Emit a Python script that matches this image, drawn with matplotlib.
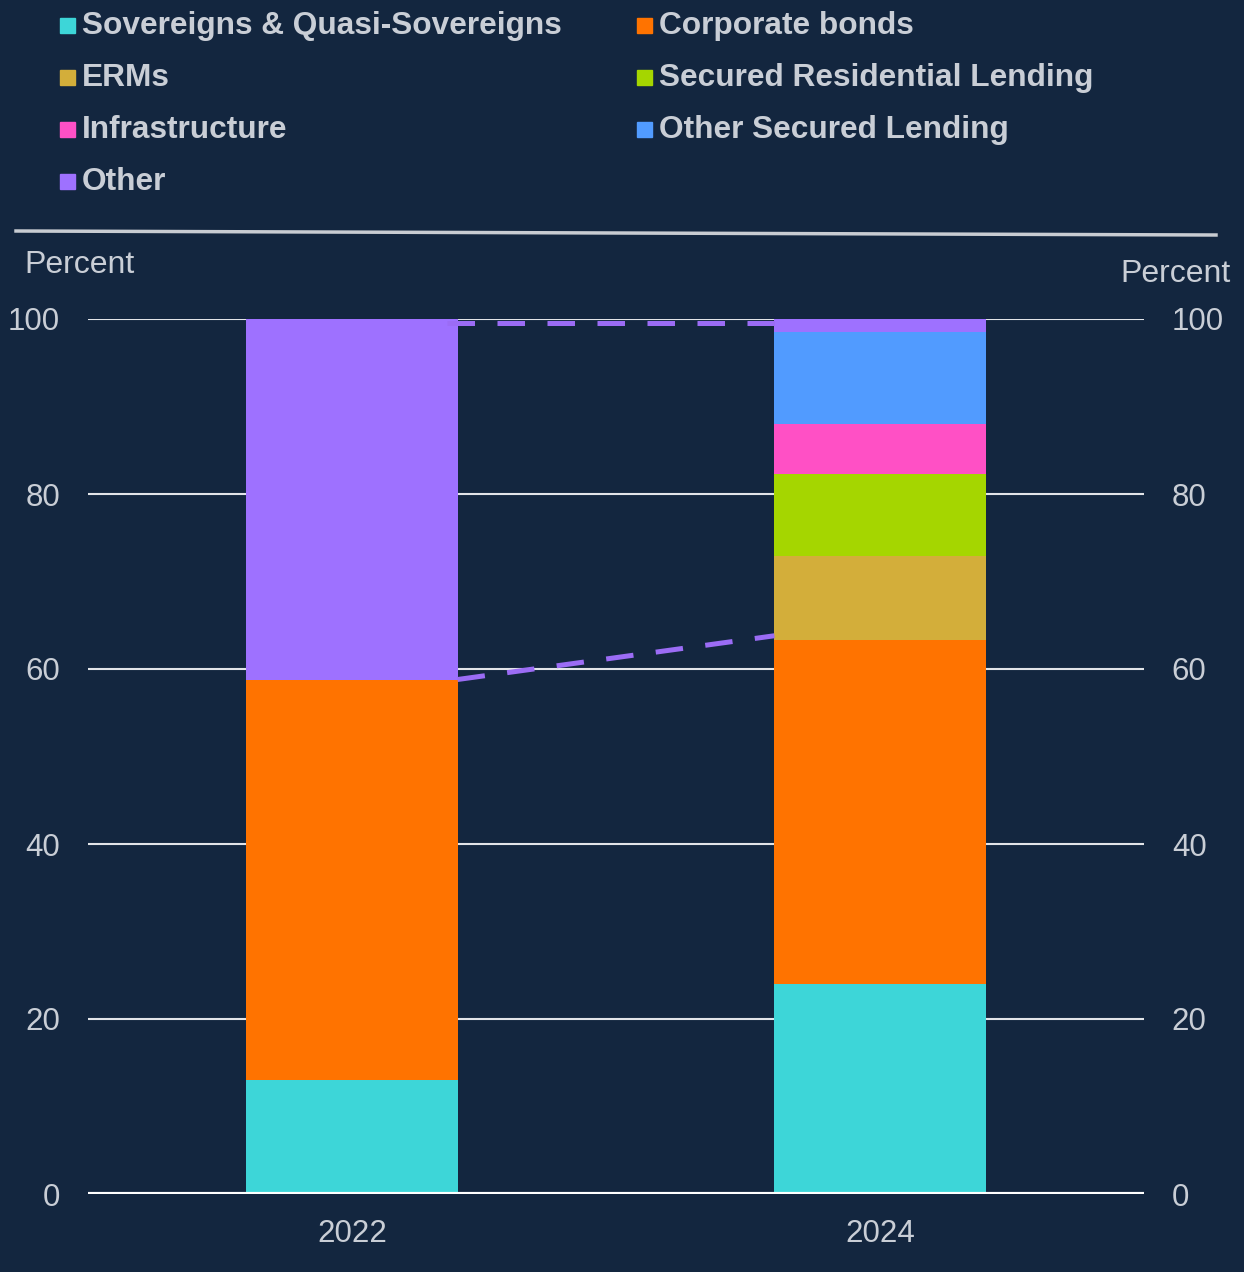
import matplotlib
matplotlib.use("Agg")
import matplotlib.pyplot as plt
from matplotlib.lines import Line2D
from matplotlib.patches import Rectangle

BG = "#13263f"
TXT = "#c9ced6"
plt.rcParams["font.family"] = ["Liberation Sans", "DejaVu Sans"]

# ---- data (percent of portfolio) ----
years = ["2022", "2024"]
series = ["Sovereigns & Quasi-Sovereigns", "Corporate bonds", "ERMs",
          "Secured Residential Lending", "Infrastructure",
          "Other Secured Lending", "Other"]
sovereigns = [13.0, 24.0]
corporate = [45.8, 39.3]
erms = [0.0, 9.6]
secured_res = [0.0, 9.4]
infrastructure = [0.0, 5.7]
other_secured = [0.0, 10.5]
other = [41.2, 1.5]
values = [sovereigns, corporate, erms, secured_res, infrastructure, other_secured, other]
colors = ["#3dd6d8", "#ff7300", "#d3ae3a", "#a5d600", "#ff50c5", "#519bff", "#9e71ff"]

# dashed connectors between the bars
conn_low_x = [0.2, 0.8]
conn_low_y = [58.8, 63.8]
conn_top_x = [0.18, 0.835]
conn_top_y = [99.5, 99.5]
yticks = [0, 20, 40, 60, 80, 100]

fig = plt.figure(figsize=(12.44, 12.72), dpi=100, facecolor=BG)
ax = fig.add_axes([88 / 1244, 78 / 1272, 1056 / 1244, 875 / 1272])
ax.set_facecolor(BG)

x = range(len(years))
for yv in yticks[1:]:
    ax.axhline(yv, color="#e2e4e8", lw=1.5, zorder=1)

bottom = [0.0, 0.0]
for vals, col in zip(values, colors):
    ax.bar(x, vals, width=0.4, bottom=bottom, color=col, zorder=2)
    bottom = [b + v for b, v in zip(bottom, vals)]

dash = dict(color="#9b6cf5", lw=3.6, ls=(0, (5.5, 4.5)), zorder=3, solid_capstyle="butt")
ax.plot(conn_low_x, conn_low_y, **dash)
ax.plot(conn_top_x, conn_top_y, **dash)

ax.axhline(0, color="white", lw=3, zorder=4)

ax.set_xlim(-0.5, 1.5)
ax.set_ylim(0, 100)
ax.set_xticks(list(x))
ax.set_xticklabels(years)
ax.set_yticks(yticks)
ax.tick_params(axis="both", length=0, labelsize=22.5, labelcolor=TXT)
ax.tick_params(axis="y", pad=20)
ax.tick_params(axis="x", pad=18)
for s in ax.spines.values():
    s.set_visible(False)

ax2 = ax.twinx()
ax2.set_ylim(0, 100)
ax2.set_yticks(yticks)
ax2.tick_params(axis="y", length=0, labelsize=22.5, labelcolor=TXT, pad=20)
for s in ax2.spines.values():
    s.set_visible(False)

fig.text(24 / 1244, 1 - 265 / 1272, "Percent", color=TXT, fontsize=23, va="center", ha="left")
fig.text(1231 / 1244, 1 - 274 / 1272, "Percent", color=TXT, fontsize=23, va="center", ha="right")

# ---- legend ----
col_x = [60, 637]
row_y0, row_dy = 25, 52
for i, (name, col) in enumerate(zip(series, colors)):
    r, c = divmod(i, 2)
    yc = row_y0 + r * row_dy
    fig.patches.append(Rectangle((col_x[c] / 1244, 1 - (yc + 8) / 1272), 15 / 1244, 15 / 1272,
                                 transform=fig.transFigure, color=col))
    fig.text((col_x[c] + 22) / 1244, 1 - (yc + 1) / 1272, name, color=TXT, fontsize=22.8,
             fontweight="bold", va="center", ha="left")

fig.add_artist(Line2D([16 / 1244, 1216 / 1244], [1 - 231 / 1272, 1 - 235 / 1272],
                      transform=fig.transFigure, color="#c8ccd2", lw=2.5))

fig.savefig("out.png", dpi=100, facecolor=BG)
